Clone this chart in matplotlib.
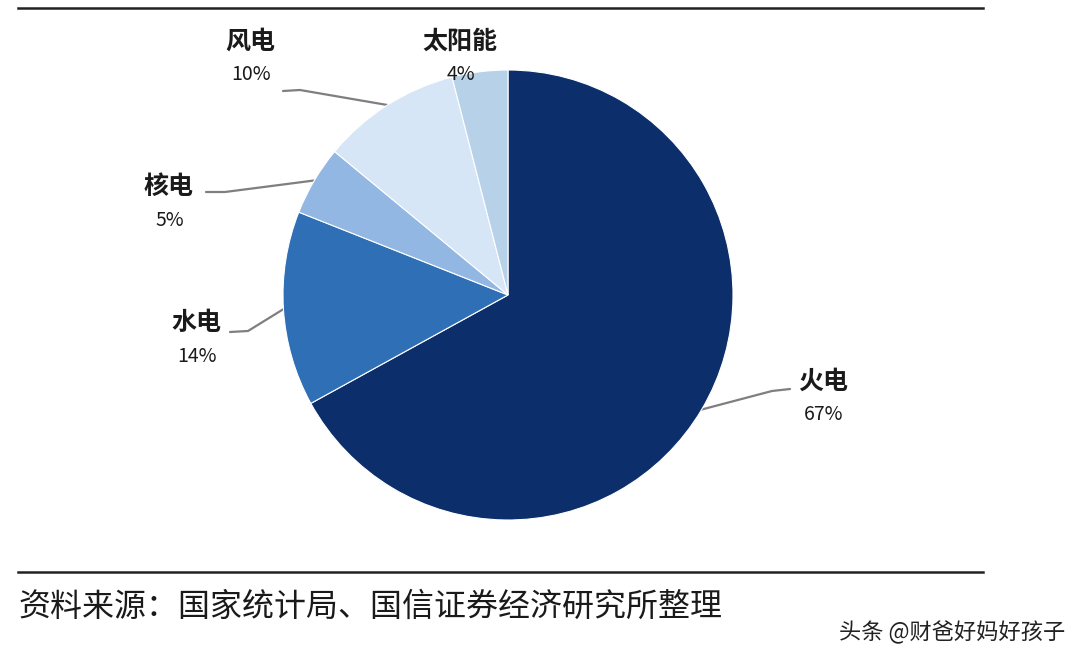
import numpy as np
import matplotlib.pyplot as plt

plt.rcParams['font.family'] = ['Noto Sans CJK SC', 'DejaVu Sans']

# --- data ---
sources = ['火电', '水电', '核电', '风电', '太阳能']
shares = [67, 14, 5, 10, 4]
colors = ['#0c2e6a', '#2f6fb6', '#93b7e3', '#d6e6f7', '#b7d1e9']

# label anchor positions (pixels, y from top) and leader line geometry
label_pos = {'火电': (823, 382), '水电': (196, 323), '核电': (169, 187),
             '风电': (250, 42), '太阳能': (460, 42)}
line_start = {'火电': (790, 389), '水电': (230, 332), '核电': (206, 192),
              '风电': (283, 91)}
line_kink = {'火电': (772, 391), '水电': (248, 331), '核电': (225, 192),
             '风电': (300, 90)}

H = 666
fig = plt.figure(figsize=(10.8, 6.66), dpi=100)
ax = fig.add_axes([0, 0, 1, 1])
ax.axis('off')

cx, cy, r = 508, H - 295, 225
wedges, _ = ax.pie(shares, colors=colors, startangle=90, counterclock=False,
                   center=(cx, cy), radius=r,
                   wedgeprops=dict(edgecolor='white', linewidth=0.8))
ax.set_xlim(0, 1080)
ax.set_ylim(0, H)
ax.set_aspect('equal')

for w, name, val in zip(wedges, sources, shares):
    lx, ly = label_pos[name]
    ax.text(lx, H - ly, name, ha='center', va='center', fontsize=18,
            fontweight='bold', color='#1a1a1a')
    ax.text(lx + 1, H - ly - 33, f'{val}%', ha='center', va='center', fontsize=14,
            color='#1a1a1a')
    if name in line_start:
        mid = np.deg2rad((w.theta1 + w.theta2) / 2)
        ex, ey = cx + r * np.cos(mid), cy + r * np.sin(mid)
        sx, sy = line_start[name]
        kx, ky = line_kink[name]
        ax.plot([sx, kx, ex], [H - sy, H - ky, ey], color='#7f7f7f', lw=1.6,
                solid_capstyle='round', zorder=0.5)

# rules
ax.plot([18, 983], [H - 8, H - 8], color='#222222', lw=1.8)
ax.plot([18, 983], [H - 572, H - 572], color='#222222', lw=1.8)

ax.text(18, H - 607, '资料来源：国家统计局、国信证券经济研究所整理', ha='left', va='center',
        fontsize=23, color='#1a1a1a')
ax.text(1065, H - 632, '头条 @财爸好妈好孩子', ha='right', va='center',
        fontsize=16, color='#222222')

fig.savefig('out.png', dpi=100, facecolor='white')
